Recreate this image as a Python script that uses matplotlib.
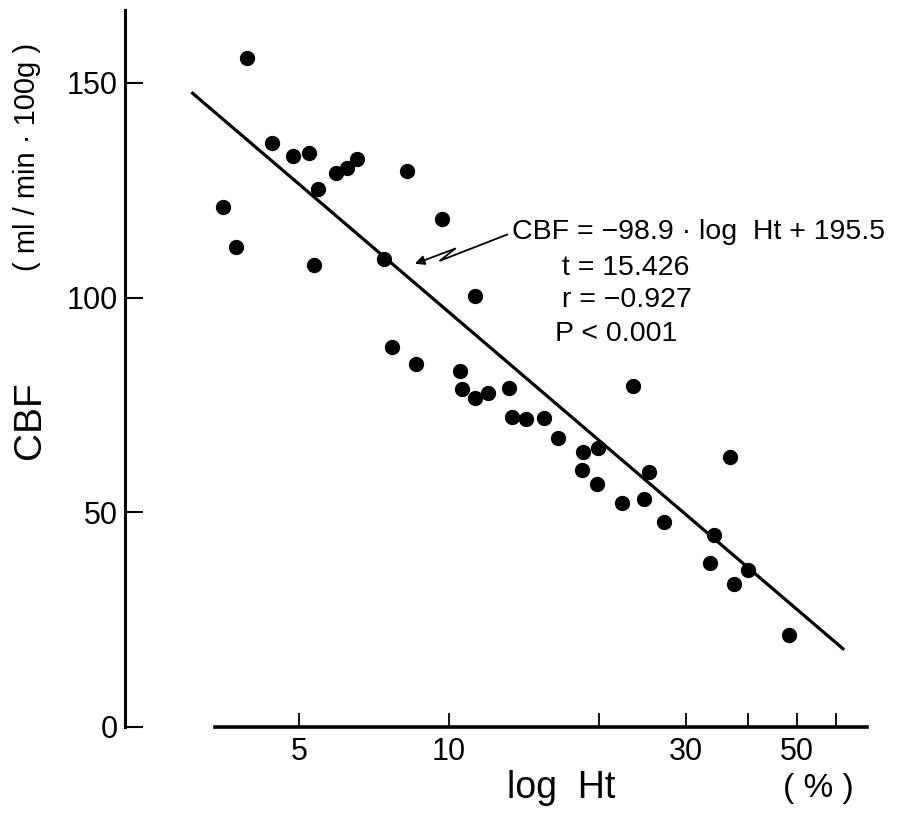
import numpy as np
import matplotlib
matplotlib.use("Agg")
import matplotlib.pyplot as plt

plt.rcParams['font.family'] = ['Liberation Sans', 'DejaVu Sans']

# Ht (%) and CBF (ml/min·100g)
ht = [3.92, 3.51, 3.73, 4.40, 4.86, 5.23, 5.45, 5.35, 5.93, 6.23, 6.53,
      8.23, 9.68, 7.40, 11.3, 7.68, 8.58, 10.5, 10.6, 11.3, 12.0, 13.2,
      13.4, 14.3, 15.5, 16.6, 18.6, 19.9, 18.5, 19.8, 23.4, 25.3, 22.3,
      24.7, 27.1, 36.8, 34.1, 33.5, 40.0, 37.5, 48.3]
cbf = [155.9, 121.2, 111.9, 136.1, 133.1, 133.6, 125.4, 107.5, 129.1, 130.3,
       132.2, 129.6, 118.4, 108.9, 100.5, 88.6, 84.6, 83.0, 78.8, 76.7, 77.9,
       79.0, 72.3, 71.8, 72.0, 67.4, 64.1, 65.0, 59.9, 56.6, 79.5, 59.4, 52.2,
       53.1, 47.8, 62.9, 44.8, 38.2, 36.6, 33.3, 21.4]

# regression CBF = a*log Ht + b
slope = -98.9
intercept = 195.5
fit_range = [3.05, 62.0]

x_ticks = [5, 10, 20, 30, 40, 50, 60]
x_ticklabels = ['5', '10', '', '30', '', '50', '']
y_ticks = [0, 50, 100, 150]

stats_lines = ['CBF = \u221298.9 \u00b7 log  Ht + 195.5',
               't = 15.426',
               'r = \u22120.927',
               'P < 0.001']

fig = plt.figure(figsize=(9.1, 8.35), dpi=100)
ax = fig.add_axes([125 / 910, 108 / 835, (867 - 125) / 910, (825 - 108) / 835])

ax.set_xscale('log')
ax.set_xlim(2.23, 69.3)
ax.set_ylim(0, 167)

# data points
ax.plot(ht, cbf, 'o', color='black', markersize=10, zorder=3)

# regression line
xf = np.array(fit_range)
ax.plot(xf, slope * np.log10(xf) + intercept, color='black', lw=2.3, zorder=2)

# spines
for s in ['top', 'right']:
    ax.spines[s].set_visible(False)
ax.spines['left'].set_linewidth(2.2)
ax.spines['bottom'].set_linewidth(2.6)
ax.spines['bottom'].set_bounds(3.38, 69.3)
ax.spines['left'].set_bounds(0, 167)

ax.set_xticks(x_ticks)
ax.set_xticklabels(x_ticklabels)
ax.xaxis.set_minor_locator(matplotlib.ticker.NullLocator())
ax.set_yticks(y_ticks)
ax.tick_params(axis='x', direction='in', length=10, width=1.3, pad=7, labelsize=22)
ax.tick_params(axis='y', direction='in', length=13, width=1.5, pad=5, labelsize=22)

# axis labels
fig.text(30 / 910, 1 - 420 / 835, 'CBF', rotation=90, fontsize=28, ha='center', va='center')
fig.text(27 / 910, 1 - 157 / 835, '( ml / min \u00b7 100g )', rotation=90, fontsize=21,
         ha='center', va='center')
fig.text(561 / 910, 1 - 788 / 835, 'log  Ht', fontsize=27, ha='center', va='center')
fig.text(818 / 910, 1 - 788 / 835, '( % )', fontsize=24, ha='center', va='center')

# regression statistics
text_pos = [(13.39, 115.4), (16.88, 107.0), (16.88, 99.5), (16.34, 91.6)]
for (tx, ty), line in zip(text_pos, stats_lines):
    ax.text(tx, ty, line, fontsize=20.5, ha='left', va='center')

# zigzag pointer to the line
ax.plot([13.09, 9.59, 10.28], [114.7, 108.6, 111.4], color='black', lw=1.3)
ax.annotate('', xy=(8.54, 107.9), xytext=(10.28, 111.4),
            arrowprops=dict(arrowstyle='-|>', color='black', lw=1.3,
                            mutation_scale=14, shrinkA=0, shrinkB=0))

fig.savefig('out.png', dpi=100)
